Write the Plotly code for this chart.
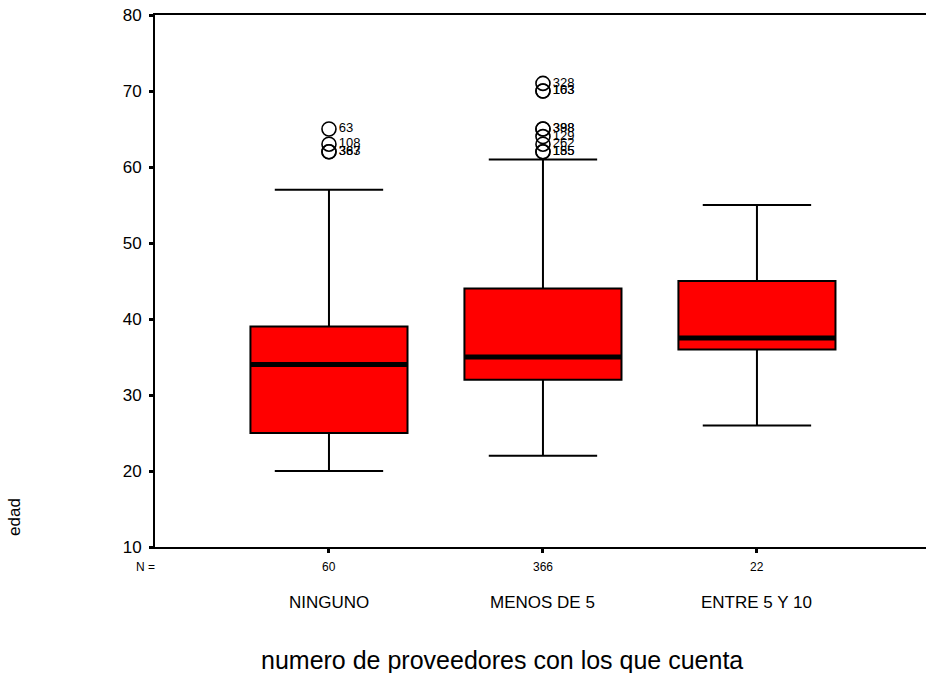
import plotly.graph_objects as go

# Age distribution by number of suppliers
categories = ["NINGUNO", "MENOS DE 5", "ENTRE 5 Y 10"]
n_counts = [60, 366, 22]
q1 = [25, 32, 36]
median = [34, 35, 37.5]
q3 = [39, 44, 45]
lower_fence = [20, 22, 26]
upper_fence = [57, 61, 55]

# Outlying cases: group index, age, case number
out_group = [0, 0, 0, 0, 1, 1, 1, 1, 1, 1, 1, 1, 1]
out_age = [65, 63, 62, 62, 71, 70, 70, 65, 65, 64, 63, 62, 62]
out_case = ["63", "108", "387", "363", "328", "163", "103",
            "388", "398", "129", "262", "185", "155"]

FONT = "Liberation Sans, Arial, sans-serif"
pos = list(range(len(categories)))
box_w = 0.734

fig = go.Figure()

fig.add_trace(go.Box(
    x=pos, q1=q1, median=median, q3=q3,
    lowerfence=lower_fence, upperfence=upper_fence,
    width=box_w, whiskerwidth=0.69,
    fillcolor="#ff0000", line=dict(color="black", width=2),
    boxpoints=False, showlegend=False,
))

# Heavy median bars
mx, my = [], []
for p, m in zip(pos, median):
    mx += [p - box_w / 2, p + box_w / 2, None]
    my += [m, m, None]
fig.add_trace(go.Scatter(x=mx, y=my, mode="lines",
                         line=dict(color="black", width=5),
                         showlegend=False, hoverinfo="skip"))

# Outliers with case labels
fig.add_trace(go.Scatter(
    x=[pos[g] for g in out_group], y=out_age,
    mode="markers+text", text=out_case, textposition="middle right",
    textfont=dict(family=FONT, size=13, color="black"),
    marker=dict(symbol="circle-open", size=14,
                line=dict(color="black", width=1.6), color="black"),
    showlegend=False,
))

annotations = []
for p, n, c in zip(pos, n_counts, categories):
    annotations.append(dict(x=p, y=0, xref="x", yref="paper", text=str(n),
                            showarrow=False, yanchor="middle", yshift=-20,
                            font=dict(family=FONT, size=12, color="black")))
    annotations.append(dict(x=p, y=0, xref="x", yref="paper", text=c,
                            showarrow=False, yanchor="middle", yshift=-55,
                            font=dict(family=FONT, size=17, color="black")))
annotations.append(dict(x=0, y=0, xref="paper", yref="paper", text="N =",
                        showarrow=False, xanchor="center", yanchor="middle",
                        xshift=-10, yshift=-20,
                        font=dict(family=FONT, size=12, color="black")))
annotations.append(dict(x=0.45, y=0, xref="paper", yref="paper",
                        text="numero de proveedores con los que cuenta",
                        showarrow=False, yanchor="middle", yshift=-113,
                        font=dict(family=FONT, size=25, color="black")))
annotations.append(dict(x=-0.182, y=0.056, xref="paper", yref="paper",
                        text="edad", textangle=-90, showarrow=False,
                        xanchor="center", yanchor="middle",
                        font=dict(family=FONT, size=17, color="black")))

fig.update_layout(
    width=926, height=673,
    margin=dict(l=155, r=0, t=15, b=126),
    plot_bgcolor="white", paper_bgcolor="white",
    annotations=annotations,
    xaxis=dict(range=[-0.813, 2.79], tickvals=pos, showticklabels=False,
               ticks="outside", ticklen=4, tickwidth=3, tickcolor="black",
               showline=True, linecolor="black", linewidth=2, mirror=True,
               showgrid=False, zeroline=False),
    yaxis=dict(range=[10, 80], dtick=10, ticks="outside", ticklen=4,
               tickwidth=3, tickcolor="black", ticklabelstandoff=4,
               tickfont=dict(family=FONT, size=17, color="black"),
               showline=True, linecolor="black", linewidth=2,
               showgrid=False, zeroline=False),
)

fig.write_html("out.html")
